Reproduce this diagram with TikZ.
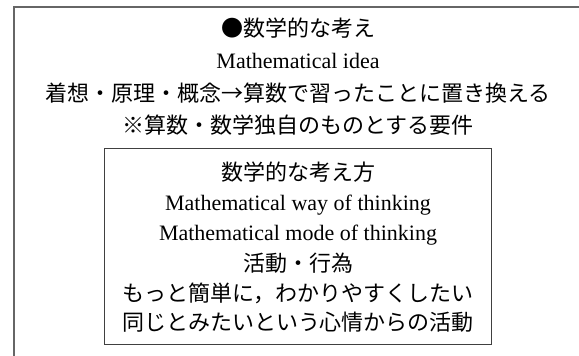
\documentclass[tikz,border=0pt]{standalone}
\usepackage{fontspec}
\setmainfont{Liberation Serif}
\newfontfamily\jp{Noto Sans CJK JP}
\begin{document}
\begin{tikzpicture}[x=1pt,y=-1pt,
  txt/.style={inner sep=0pt, text height=16.5pt, text depth=0pt, font=\fontsize{22}{26}\selectfont},
  frame/.style={draw=black!60, line width=1.5pt},
  innerbox/.style={draw=black!75, line width=0.9pt, minimum width=387pt, minimum height=196pt, inner sep=0pt}]
\useasboundingbox (0,0) rectangle (579,356);
\draw[frame] (14,370) -- (14,7) -- (590,7);
\node[txt] (l1) at (298,28) {\jp ●数学的な考え};
\node[txt] (l2) at (298,60) {Mathematical idea};
\node[txt] (l3) at (298,93) {\jp 着想・原理・概念→算数で習ったことに置き換える};
\node[txt] (l4) at (298,125) {\jp ※算数・数学独自のものとする要件};
\node[innerbox] (box) at (297.5,246) {};
\node[txt] (m1) at (298,172) {\jp 数学的な考え方};
\node[txt] (m2) at (298,202) {Mathematical way of thinking};
\node[txt] (m3) at (298,232) {Mathematical mode of thinking};
\node[txt] (m4) at (298,263) {\jp 活動・行為};
\node[txt] (m5) at (298,293) {\jp もっと簡単に，わかりやすくしたい};
\node[txt] (m6) at (298,322) {\jp 同じとみたいという心情からの活動};
\end{tikzpicture}
\end{document}
